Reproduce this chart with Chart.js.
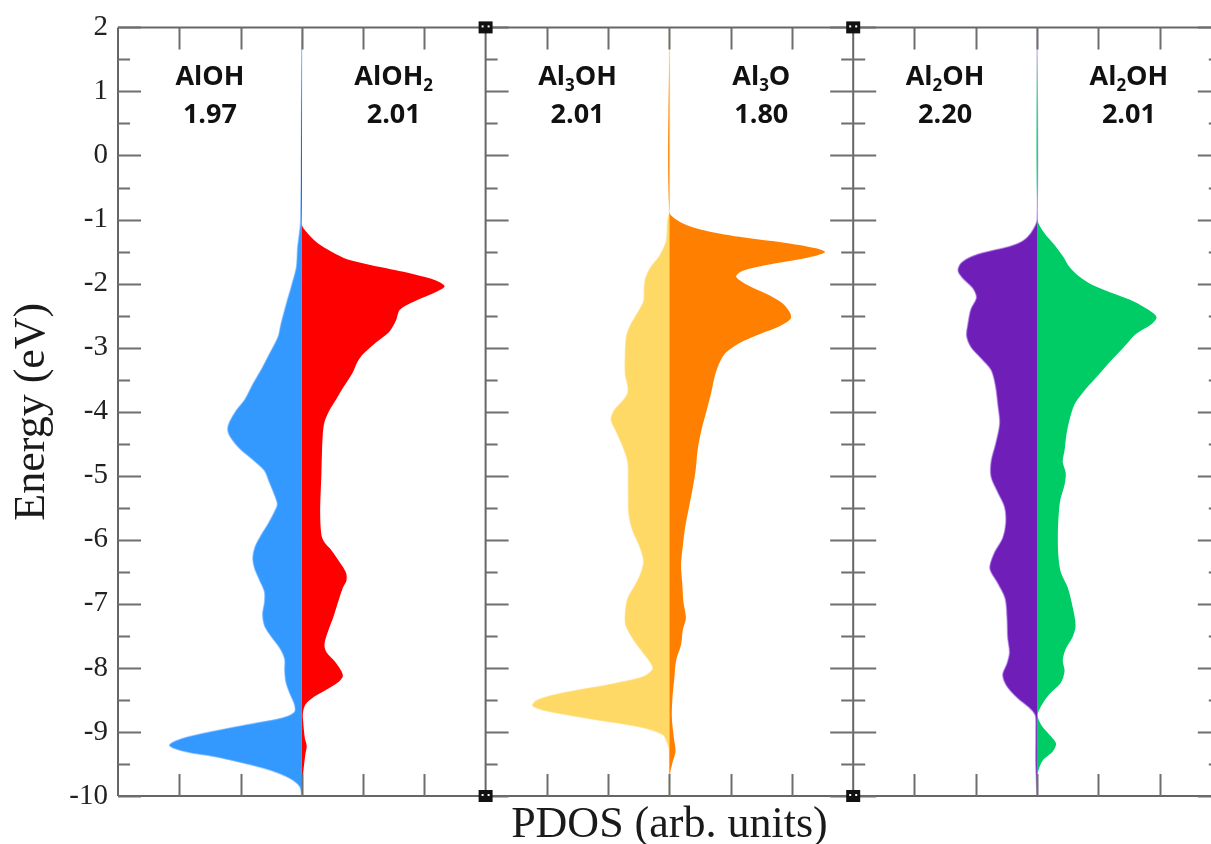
<!DOCTYPE html>
<html>
<head>
<title>PDOS</title>
<script src="https://cdn.jsdelivr.net/npm/chart.js"></script>
<style>
  html, body { margin: 0; padding: 0; background: #fff; overflow: hidden; }
  #chartBox { width: 1211px; height: 844px; }
</style>
</head>
<body>
<div id="chartBox"><canvas id="pdosChart" width="1211" height="844"></canvas></div>
<script>
// energies (eV) and PDOS values, one pair per curve
const alohE  = [2, -1.0, -1.45, -1.75, -2.04, -2.34, -2.63, -2.81, -2.92, -3.1, -3.34, -3.57, -3.81, -3.98, -4.16, -4.28, -4.39, -4.57, -4.75, -4.92, -5.1, -5.34, -5.45, -5.57, -5.75, -5.92, -6.1, -6.28, -6.45, -6.63, -6.81, -6.98, -7.16, -7.34, -7.51, -7.69, -7.86, -8.04, -8.22, -8.39, -8.57, -8.69, -8.78, -8.86, -8.98, -9.1, -9.21, -9.31, -9.39, -9.51, -9.63, -9.75, -9.86, -10];
const alohV  = [0, 0.02, 0.07, 0.09, 0.17, 0.26, 0.34, 0.38, 0.43, 0.53, 0.66, 0.8, 0.93, 1.07, 1.18, 1.21, 1.17, 1.02, 0.8, 0.61, 0.53, 0.43, 0.4, 0.45, 0.55, 0.66, 0.76, 0.8, 0.77, 0.69, 0.61, 0.61, 0.64, 0.61, 0.5, 0.36, 0.28, 0.28, 0.26, 0.2, 0.12, 0.12, 0.31, 0.74, 1.4, 1.94, 2.16, 1.89, 1.4, 0.85, 0.42, 0.15, 0.03, 0];

const aloh2E = [2, -1.07, -1.22, -1.39, -1.54, -1.63, -1.75, -1.86, -1.95, -2.04, -2.13, -2.22, -2.34, -2.42, -2.57, -2.75, -2.92, -3.1, -3.22, -3.39, -3.63, -3.81, -3.98, -4.16, -4.39, -4.98, -5.57, -5.92, -6.04, -6.16, -6.34, -6.51, -6.63, -6.75, -6.98, -7.22, -7.45, -7.63, -7.75, -7.89, -8.04, -8.13, -8.22, -8.34, -8.45, -8.57, -8.69, -8.81, -9.1, -9.22, -9.34, -9.57, -9.8, -10];
const aloh2V = [0, 0, 0.1, 0.29, 0.56, 0.78, 1.32, 1.86, 2.19, 2.33, 2.19, 1.97, 1.7, 1.59, 1.54, 1.43, 1.21, 1.0, 0.91, 0.83, 0.67, 0.56, 0.45, 0.37, 0.34, 0.32, 0.3, 0.32, 0.37, 0.48, 0.61, 0.72, 0.73, 0.67, 0.59, 0.51, 0.42, 0.37, 0.4, 0.53, 0.64, 0.67, 0.6, 0.4, 0.2, 0.06, 0.02, 0.02, 0.05, 0.08, 0.06, 0.03, 0.01, 0];

const al3ohE = [2, -0.88, -1.03, -1.33, -1.57, -1.74, -1.92, -2.1, -2.28, -2.46, -2.64, -2.82, -3.11, -3.41, -3.59, -3.71, -3.83, -3.98, -4.13, -4.3, -4.54, -4.78, -5.2, -5.61, -5.85, -6.09, -6.33, -6.51, -6.68, -6.92, -7.16, -7.34, -7.58, -7.76, -7.93, -8.02, -8.14, -8.26, -8.38, -8.5, -8.59, -8.68, -8.8, -8.92, -9.04, -9.18, -9.3, -10];
const al3ohV = [0, 0, 0.03, 0.05, 0.16, 0.3, 0.39, 0.41, 0.42, 0.52, 0.63, 0.7, 0.72, 0.72, 0.68, 0.68, 0.76, 0.9, 0.95, 0.87, 0.76, 0.68, 0.67, 0.66, 0.6, 0.49, 0.42, 0.46, 0.54, 0.68, 0.72, 0.71, 0.57, 0.43, 0.3, 0.27, 0.43, 0.98, 1.68, 2.15, 2.23, 1.96, 1.25, 0.49, 0.11, 0.03, 0, 0];

const al3oE  = [2, -0.88, -1.03, -1.15, -1.27, -1.36, -1.45, -1.51, -1.6, -1.71, -1.8, -1.89, -2.01, -2.16, -2.31, -2.46, -2.55, -2.67, -2.79, -2.93, -3.08, -3.23, -3.41, -3.71, -4.01, -4.3, -4.6, -4.9, -5.2, -5.49, -5.79, -6.09, -6.39, -6.68, -6.98, -7.22, -7.4, -7.64, -7.88, -8.17, -8.47, -8.77, -9.07, -9.3, -9.48, -9.66, -10];
const al3oV  = [0, 0, 0.16, 0.49, 1.14, 1.85, 2.39, 2.54, 2.23, 1.58, 1.2, 1.09, 1.25, 1.58, 1.85, 1.97, 1.98, 1.79, 1.47, 1.14, 0.92, 0.82, 0.75, 0.68, 0.6, 0.52, 0.46, 0.43, 0.38, 0.32, 0.26, 0.22, 0.19, 0.21, 0.23, 0.27, 0.22, 0.19, 0.11, 0.08, 0.05, 0.04, 0.07, 0.1, 0.05, 0.01, 0];

const al2ohLE = [2, -1.0, -1.21, -1.33, -1.42, -1.48, -1.57, -1.68, -1.8, -1.92, -2.07, -2.22, -2.4, -2.64, -2.82, -2.99, -3.17, -3.35, -3.59, -3.89, -4.18, -4.48, -4.78, -5.02, -5.26, -5.49, -5.73, -5.97, -6.21, -6.45, -6.68, -6.92, -7.22, -7.52, -7.76, -7.93, -8.11, -8.29, -8.47, -8.62, -8.74, -8.95, -9.54, -10];
const al2ohLV = [0, 0, 0.1, 0.23, 0.45, 0.72, 1.05, 1.24, 1.29, 1.21, 1.05, 0.99, 1.08, 1.13, 1.15, 1.08, 0.91, 0.75, 0.68, 0.64, 0.61, 0.67, 0.75, 0.75, 0.64, 0.53, 0.51, 0.56, 0.7, 0.77, 0.64, 0.52, 0.49, 0.48, 0.45, 0.49, 0.56, 0.49, 0.32, 0.13, 0.03, 0.02, 0.02, 0];

const al2ohRE = [2, -1.0, -1.21, -1.39, -1.57, -1.74, -1.89, -2.01, -2.13, -2.25, -2.37, -2.52, -2.64, -2.79, -2.99, -3.23, -3.47, -3.71, -3.89, -4.13, -4.36, -4.6, -4.78, -4.96, -5.14, -5.38, -5.67, -5.97, -6.27, -6.51, -6.74, -7.04, -7.34, -7.52, -7.7, -7.88, -8.05, -8.23, -8.41, -8.59, -8.74, -8.89, -9.04, -9.18, -9.3, -9.45, -9.66, -10];
const al2ohRV = [0, 0.01, 0.12, 0.28, 0.42, 0.53, 0.69, 0.88, 1.18, 1.51, 1.75, 1.95, 1.86, 1.61, 1.42, 1.18, 0.96, 0.74, 0.61, 0.53, 0.48, 0.45, 0.42, 0.47, 0.45, 0.38, 0.35, 0.34, 0.35, 0.39, 0.5, 0.58, 0.63, 0.58, 0.47, 0.42, 0.45, 0.39, 0.2, 0.07, 0.01, 0.07, 0.2, 0.31, 0.26, 0.09, 0.01, 0];

// panel labels: odd entries are subscripts
const labelParts = [['AlOH'], ['AlOH', '2'], ['Al', '3', 'OH'], ['Al', '3', 'O'], ['Al', '2', 'OH'], ['Al', '2', 'OH']];
const labelValues = ['1.97', '2.01', '2.01', '1.80', '2.20', '2.01'];

const yTickLabels = ['-10', '-9', '-8', '-7', '-6', '-5', '-4', '-3', '-2', '-1', '0', '1', '2'];

const PANEL = 6;           // x units per panel
const X_MAX = 17.84;       // right panel edge is just off the picture
const colors = [
    {fill: '#3399ff', edge: 'rgba(120,180,255,0.55)'},
    {fill: '#ff0000', edge: 'rgba(255,0,0,0)'},
    {fill: '#ffd966', edge: 'rgba(255,220,120,0.6)'},
    {fill: '#ff8000', edge: 'rgba(255,128,0,0)'},
    {fill: '#6f1fb8', edge: 'rgba(180,130,235,0.6)'},
    {fill: '#00cc66', edge: 'rgba(0,204,102,0)'}
];
const curves = [[alohE, alohV], [aloh2E, aloh2V], [al3ohE, al3ohV], [al3oE, al3oV], [al2ohLE, al2ohLV], [al2ohRE, al2ohRV]];

const datasets = curves.map(([E, V], i) => {
    const center = PANEL * (Math.floor(i / 2) + 0.5);
    const sign = i % 2 === 0 ? -1 : 1;
    return {
        label: labelParts[i].join(''),
        data: E.map((e, k) => ({x: center + sign * V[k], y: e})),
        backgroundColor: colors[i].fill,
        borderColor: colors[i].edge,
        borderWidth: i % 2 === 0 ? 1.3 : 0,
        fill: {value: center},
        pointRadius: 0,
        tension: 0.3,
        order: i % 2 === 0 ? 1 : 0
    };
});

const serif = '"Liberation Serif", "Times New Roman", serif';
const sans = '"Open Sans", "Liberation Sans", sans-serif';

function drawFormula(ctx, parts, cx, baseY, size) {
    const big = 'bold ' + size + 'px ' + sans;
    const small = 'bold ' + Math.round(size * 0.62) + 'px ' + sans;
    let w = 0;
    parts.forEach((p, i) => { ctx.font = i % 2 ? small : big; w += ctx.measureText(p).width; });
    let x = cx - w / 2;
    parts.forEach((p, i) => {
        ctx.font = i % 2 ? small : big;
        ctx.fillText(p, x, baseY + (i % 2 ? size * 0.22 : 0));
        x += ctx.measureText(p).width;
    });
}

const framePlugin = {
    id: 'frame',
    afterDatasetsDraw(chart) {
        const ctx = chart.ctx;
        const xs = chart.scales.x, ys = chart.scales.y;
        const top = ys.getPixelForValue(2), bottom = ys.getPixelForValue(-10);
        const right = xs.getPixelForValue(3 * PANEL);
        ctx.save();
        ctx.strokeStyle = '#666';
        ctx.lineWidth = 2;
        ctx.beginPath();
        ctx.moveTo(xs.getPixelForValue(0), top); ctx.lineTo(right, top);
        ctx.moveTo(xs.getPixelForValue(0), bottom); ctx.lineTo(right, bottom);
        for (let p = 0; p <= 3; p++) {
            const x = xs.getPixelForValue(p * PANEL);
            ctx.moveTo(x, top); ctx.lineTo(x, bottom);
        }
        ctx.stroke();

        // energy ticks on the panel borders: [x unit, ticks left, ticks right]
        const sides = [[0, false, true], [6, false, true], [12, true, true], [18, true, false]];
        ctx.strokeStyle = '#6e6e6e';
        ctx.lineWidth = 2;
        ctx.beginPath();
        for (let e = -10; e <= 2; e += 0.5) {
            const y = Math.round(ys.getPixelForValue(e)) + 0.5;
            const len = Number.isInteger(e) ? 23 : 12;
            sides.forEach(([u, l, r]) => {
                const x = xs.getPixelForValue(u);
                if (l) { ctx.moveTo(x - len, y); ctx.lineTo(x, y); }
                if (r) { ctx.moveTo(x, y); ctx.lineTo(x + len, y); }
            });
        }
        // PDOS ticks top and bottom
        for (let u = 1; u < 3 * PANEL; u++) {
            if (u % PANEL === 0) continue;
            const x = Math.round(xs.getPixelForValue(u)) + 0.5;
            ctx.moveTo(x, top); ctx.lineTo(x, top + 22);
            ctx.moveTo(x, bottom); ctx.lineTo(x, bottom - 22);
        }
        ctx.stroke();

        // little corner markers where the panels meet
        [PANEL, 2 * PANEL].forEach(u => {
            const x = xs.getPixelForValue(u);
            [top, bottom].forEach(y => {
                ctx.fillStyle = '#111';
                ctx.fillRect(x - 7, y - 6, 14, 12);
                ctx.fillStyle = '#fff';
                ctx.fillRect(x - 4, y - 2, 2, 2);
                ctx.fillRect(x + 2, y - 2, 2, 2);
            });
        });
        ctx.restore();
    },
    afterDraw(chart) {
        const ctx = chart.ctx;
        const xs = chart.scales.x, ys = chart.scales.y;
        ctx.save();
        ctx.fillStyle = '#111';
        ctx.textBaseline = 'alphabetic';
        ctx.textAlign = 'left';
        labelParts.forEach((parts, i) => {
            const center = PANEL * (Math.floor(i / 2) + 0.5);
            const cx = xs.getPixelForValue(center + (i % 2 === 0 ? -1.5 : 1.5));
            drawFormula(ctx, parts, cx, ys.getPixelForValue(1.1), 27);
            ctx.font = 'bold 27px ' + sans;
            ctx.textAlign = 'center';
            ctx.fillText(labelValues[i], cx, ys.getPixelForValue(0.5));
            ctx.textAlign = 'left';
        });
        ctx.fillStyle = '#1a1a1a';
        ctx.font = '44px ' + serif;
        ctx.textAlign = 'center';
        ctx.fillText('PDOS (arb. units)', xs.getPixelForValue(1.5 * PANEL), ys.getPixelForValue(-10) + 41);
        ctx.restore();
    }
};

new Chart(document.getElementById('pdosChart'), {
    type: 'line',
    data: {datasets: datasets},
    options: {
        responsive: false,
        animation: false,
        indexAxis: 'y',
        layout: {padding: {top: 25, bottom: 48, left: 0, right: 0}},
        plugins: {legend: {display: false}, tooltip: {enabled: false}},
        scales: {
            x: {type: 'linear', min: 0, max: X_MAX, display: false},
            y: {
                type: 'linear',
                min: -10,
                max: 2,
                grid: {display: false, drawTicks: false},
                border: {display: false},
                ticks: {
                    stepSize: 1,
                    padding: 10,
                    color: '#222',
                    font: {family: serif, size: 29},
                    callback: (v) => yTickLabels[Math.round(v) + 10]
                },
                title: {
                    display: true,
                    text: 'Energy (eV)',
                    color: '#1a1a1a',
                    font: {family: serif, size: 44},
                    padding: {top: 6, bottom: 0}
                },
                afterFit: (scale) => { scale.width = 118; }
            }
        }
    },
    plugins: [framePlugin]
});
</script>
</body>
</html>
